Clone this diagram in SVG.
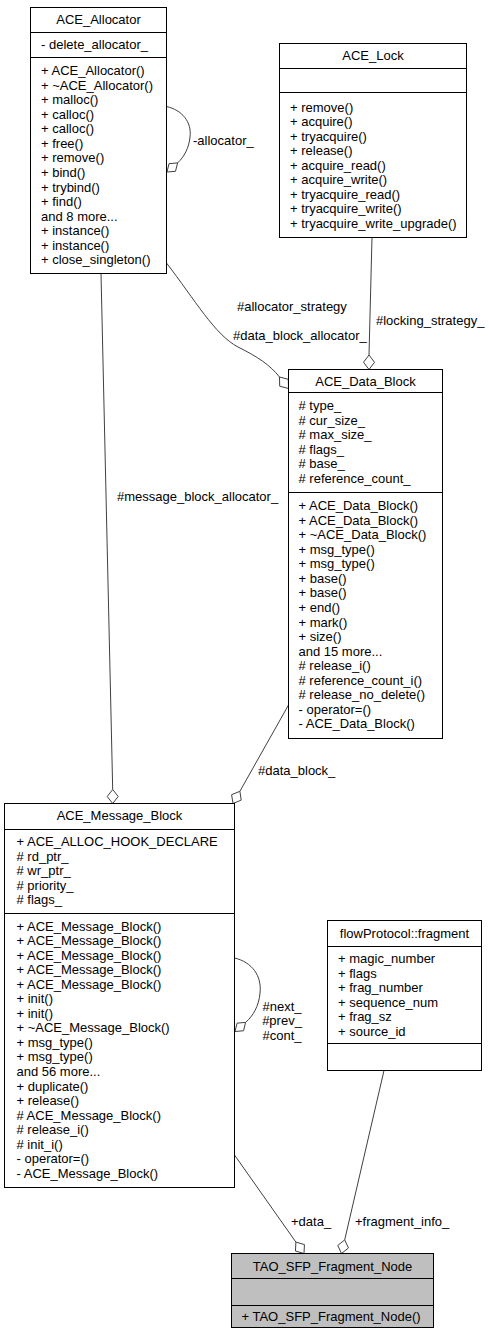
<svg xmlns="http://www.w3.org/2000/svg" width="489" height="1336" viewBox="0 0 489 1336">
<style>
  text { font-family: "Liberation Sans", Arial, sans-serif; font-size: 13px; fill: #000; }
  .title { text-anchor: middle; }
  .box { fill: #fff; stroke: #000; stroke-width: 1; }
  .focus { fill: #bfbfbf; stroke: #000; stroke-width: 1; }
  .sep { stroke: #000; stroke-width: 1; }
  .edge { fill: none; stroke: #404040; stroke-width: 1; }
  .dia { fill: #fff; stroke: #404040; stroke-width: 1; }
  .lbl { font-size: 13px; }
</style>
<rect width="489" height="1336" fill="#fff"/>

<g id="connectors">
  <!-- allocator self loop -->
  <path class="edge" d="M166.5,106.5 C182,110 192,122 190,137 C189,148 184,157 177.6,162.9"/>
  <polygon class="dia" points="167,172 175.5,171.3 177.6,162.9 169,163.7"/>
  <text class="lbl" x="193" y="144.5">-allocator_</text>

  <!-- allocator -> data block -->
  <path class="edge" d="M166.5,263 C195,300 215,335 238,347 C258,357 270,365 279.5,377"/>
  <polygon class="dia" points="288.5,388.5 288.3,379.3 279.5,377 279.7,386.2"/>
  <text class="lbl" x="237" y="310.5">#allocator_strategy</text>
  <text class="lbl" x="233" y="339.5">#data_block_allocator_</text>

  <!-- lock -> data block -->
  <path class="edge" d="M372,237.5 L369,355"/>
  <polygon class="dia" points="369,369.5 374.5,362.25 369,355 363.5,362.25"/>
  <text class="lbl" x="376" y="325">#locking_strategy_</text>

  <!-- allocator -> message block -->
  <path class="edge" d="M101,273.5 L112.7,789.5"/>
  <polygon class="dia" points="112.7,803.5 118.2,796.5 112.7,789.5 107.2,796.5"/>
  <text class="lbl" x="117" y="501">#message_block_allocator_</text>

  <!-- data block -> message block -->
  <path class="edge" d="M288.5,705 L239.9,791.3"/>
  <polygon class="dia" points="233,803.5 241.2,800.1 239.9,791.3 231.6,794.7"/>
  <text class="lbl" x="258" y="775">#data_block_</text>

  <!-- message block self loop -->
  <path class="edge" d="M234.5,958 C252,962 262,976 260,993 C259,1006 253,1016 245.6,1022.4"/>
  <polygon class="dia" points="235,1031.5 243.55,1030.75 245.6,1022.4 237.05,1023.15"/>
  <text class="lbl" text-anchor="middle" x="282" y="1010.5">#next_</text>
  <text class="lbl" text-anchor="middle" x="282" y="1025">#prev_</text>
  <text class="lbl" text-anchor="middle" x="282" y="1039.5">#cont_</text>

  <!-- message block -> fragment node -->
  <path class="edge" d="M234.5,1155 L295.9,1242.1"/>
  <polygon class="dia" points="304,1253.5 304.45,1244.6 295.9,1242.1 295.45,1251"/>
  <text class="lbl" x="291" y="1226">+data_</text>

  <!-- fragment -> fragment node -->
  <path class="edge" d="M384,1070.5 L344.7,1239.9"/>
  <polygon class="dia" points="341.5,1253.5 348.46,1247.94 344.7,1239.9 337.74,1245.46"/>
  <text class="lbl" x="355" y="1226">+fragment_info_</text>
</g>

<g id="ACE_Allocator">
  <rect class="box" x="30.5" y="7.5" width="136" height="266"/>
  <line class="sep" x1="30.5" y1="32.5" x2="166.5" y2="32.5"/>
  <line class="sep" x1="30.5" y1="57.5" x2="166.5" y2="57.5"/>
  <text class="title" x="98.5" y="24">ACE_Allocator</text>
  <text x="41" y="49">- delete_allocator_</text>
  <text x="41" y="75.1">+ ACE_Allocator()<tspan x="41" dy="14.55">+ ~ACE_Allocator()</tspan><tspan x="41" dy="14.55">+ malloc()</tspan><tspan x="41" dy="14.55">+ calloc()</tspan><tspan x="41" dy="14.55">+ calloc()</tspan><tspan x="41" dy="14.55">+ free()</tspan><tspan x="41" dy="14.55">+ remove()</tspan><tspan x="41" dy="14.55">+ bind()</tspan><tspan x="41" dy="14.55">+ trybind()</tspan><tspan x="41" dy="14.55">+ find()</tspan><tspan x="41" dy="14.55">and 8 more...</tspan><tspan x="41" dy="14.55">+ instance()</tspan><tspan x="41" dy="14.55">+ instance()</tspan><tspan x="41" dy="14.55">+ close_singleton()</tspan></text>
</g>

<g id="ACE_Lock">
  <rect class="box" x="279.5" y="43.5" width="187" height="194"/>
  <line class="sep" x1="279.5" y1="68.5" x2="466.5" y2="68.5"/>
  <line class="sep" x1="279.5" y1="92.5" x2="466.5" y2="92.5"/>
  <text class="title" x="373" y="60">ACE_Lock</text>
  <text x="290" y="111.5">+ remove()<tspan x="290" dy="14.55">+ acquire()</tspan><tspan x="290" dy="14.55">+ tryacquire()</tspan><tspan x="290" dy="14.55">+ release()</tspan><tspan x="290" dy="14.55">+ acquire_read()</tspan><tspan x="290" dy="14.55">+ acquire_write()</tspan><tspan x="290" dy="14.55">+ tryacquire_read()</tspan><tspan x="290" dy="14.55">+ tryacquire_write()</tspan><tspan x="290" dy="14.55">+ tryacquire_write_upgrade()</tspan></text>
</g>

<g id="ACE_Data_Block">
  <rect class="box" x="288.5" y="369.5" width="154" height="369"/>
  <line class="sep" x1="288.5" y1="392.5" x2="442.5" y2="392.5"/>
  <line class="sep" x1="288.5" y1="492.5" x2="442.5" y2="492.5"/>
  <text class="title" x="365.5" y="385.5">ACE_Data_Block</text>
  <text x="298.5" y="410.1"># type_<tspan x="298.5" dy="14.55"># cur_size_</tspan><tspan x="298.5" dy="14.55"># max_size_</tspan><tspan x="298.5" dy="14.55"># flags_</tspan><tspan x="298.5" dy="14.55"># base_</tspan><tspan x="298.5" dy="14.55"># reference_count_</tspan></text>
  <text x="298.5" y="510.1">+ ACE_Data_Block()<tspan x="298.5" dy="14.55">+ ACE_Data_Block()</tspan><tspan x="298.5" dy="14.55">+ ~ACE_Data_Block()</tspan><tspan x="298.5" dy="14.55">+ msg_type()</tspan><tspan x="298.5" dy="14.55">+ msg_type()</tspan><tspan x="298.5" dy="14.55">+ base()</tspan><tspan x="298.5" dy="14.55">+ base()</tspan><tspan x="298.5" dy="14.55">+ end()</tspan><tspan x="298.5" dy="14.55">+ mark()</tspan><tspan x="298.5" dy="14.55">+ size()</tspan><tspan x="298.5" dy="14.55">and 15 more...</tspan><tspan x="298.5" dy="14.55"># release_i()</tspan><tspan x="298.5" dy="14.55"># reference_count_i()</tspan><tspan x="298.5" dy="14.55"># release_no_delete()</tspan><tspan x="298.5" dy="14.55">- operator=()</tspan><tspan x="298.5" dy="14.55">- ACE_Data_Block()</tspan></text>
</g>

<g id="ACE_Message_Block">
  <rect class="box" x="4.5" y="803.5" width="230" height="384"/>
  <line class="sep" x1="4.5" y1="829.5" x2="234.5" y2="829.5"/>
  <line class="sep" x1="4.5" y1="913.5" x2="234.5" y2="913.5"/>
  <text class="title" x="119.5" y="820">ACE_Message_Block</text>
  <text x="16.5" y="846">+ ACE_ALLOC_HOOK_DECLARE<tspan x="16.5" dy="14.55"># rd_ptr_</tspan><tspan x="16.5" dy="14.55"># wr_ptr_</tspan><tspan x="16.5" dy="14.55"># priority_</tspan><tspan x="16.5" dy="14.55"># flags_</tspan></text>
  <text x="16.5" y="930.5">+ ACE_Message_Block()<tspan x="16.5" dy="14.55">+ ACE_Message_Block()</tspan><tspan x="16.5" dy="14.55">+ ACE_Message_Block()</tspan><tspan x="16.5" dy="14.55">+ ACE_Message_Block()</tspan><tspan x="16.5" dy="14.55">+ ACE_Message_Block()</tspan><tspan x="16.5" dy="14.55">+ init()</tspan><tspan x="16.5" dy="14.55">+ init()</tspan><tspan x="16.5" dy="14.55">+ ~ACE_Message_Block()</tspan><tspan x="16.5" dy="14.55">+ msg_type()</tspan><tspan x="16.5" dy="14.55">+ msg_type()</tspan><tspan x="16.5" dy="14.55">and 56 more...</tspan><tspan x="16.5" dy="14.55">+ duplicate()</tspan><tspan x="16.5" dy="14.55">+ release()</tspan><tspan x="16.5" dy="14.55"># ACE_Message_Block()</tspan><tspan x="16.5" dy="14.55"># release_i()</tspan><tspan x="16.5" dy="14.55"># init_i()</tspan><tspan x="16.5" dy="14.55">- operator=()</tspan><tspan x="16.5" dy="14.55">- ACE_Message_Block()</tspan></text>
</g>

<g id="flowProtocol_fragment">
  <rect class="box" x="327.5" y="920.5" width="154" height="150"/>
  <line class="sep" x1="327.5" y1="946.5" x2="481.5" y2="946.5"/>
  <line class="sep" x1="327.5" y1="1043.5" x2="481.5" y2="1043.5"/>
  <text class="title" x="404.5" y="938">flowProtocol::fragment</text>
  <text x="338" y="963">+ magic_number<tspan x="338" dy="14.55">+ flags</tspan><tspan x="338" dy="14.55">+ frag_number</tspan><tspan x="338" dy="14.55">+ sequence_num</tspan><tspan x="338" dy="14.55">+ frag_sz</tspan><tspan x="338" dy="14.55">+ source_id</tspan></text>
</g>

<g id="TAO_SFP_Fragment_Node">
  <rect class="focus" x="231.5" y="1253.5" width="202" height="74"/>
  <line class="sep" x1="231.5" y1="1278.5" x2="433.5" y2="1278.5"/>
  <line class="sep" x1="231.5" y1="1305.5" x2="433.5" y2="1305.5"/>
  <text class="title" x="332.5" y="1270.5">TAO_SFP_Fragment_Node</text>
  <text x="241.5" y="1320.5">+ TAO_SFP_Fragment_Node()</text>
</g>
</svg>
